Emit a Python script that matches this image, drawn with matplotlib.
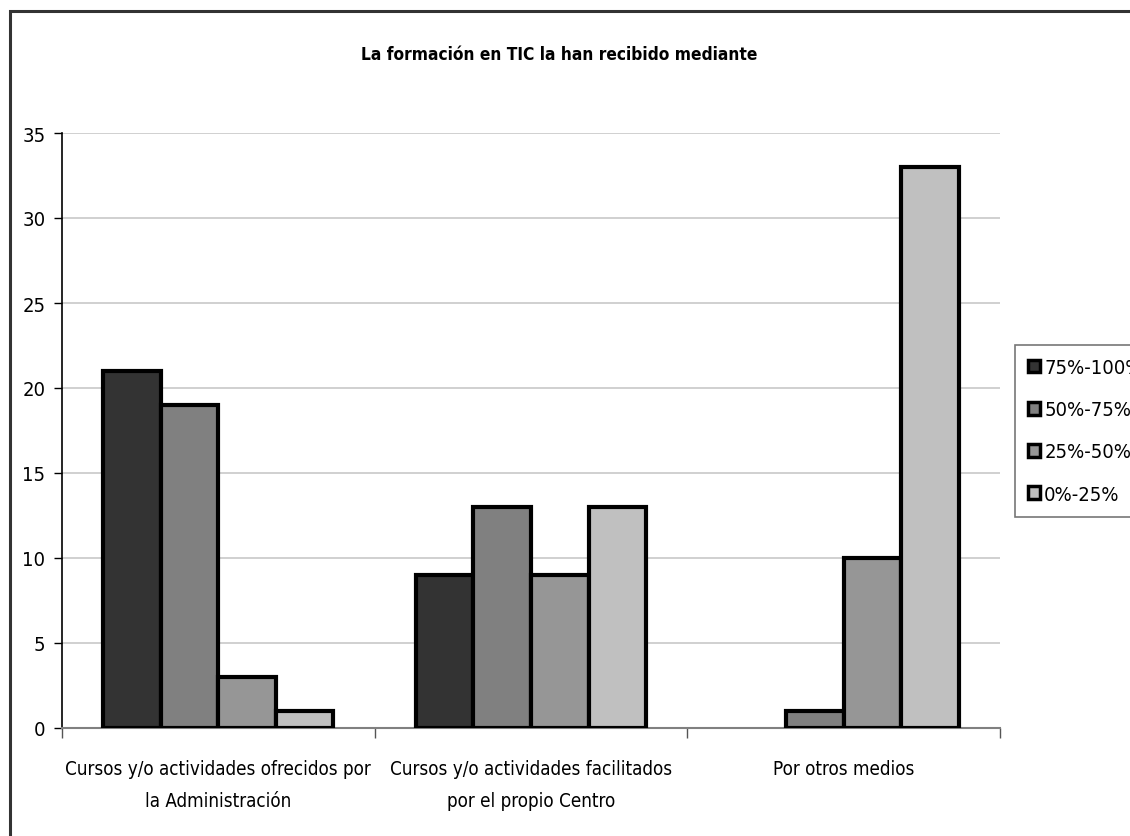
import matplotlib
matplotlib.use("Agg")
import matplotlib.pyplot as plt
from matplotlib.patches import Patch, Rectangle
import numpy as np

plt.rcParams['font.family'] = ['DejaVu Sans']
plt.rcParams['font.stretch'] = 'condensed'

categories = ["Cursos y/o actividades ofrecidos por\nla Administración",
              "Cursos y/o actividades facilitados\npor el propio Centro",
              "Por otros medios"]
series_names = ["75%-100%", "50%-75%", "25%-50%", "0%-25%"]
v_75_100 = [21, 9, 0]
v_50_75 = [19, 13, 1]
v_25_50 = [3, 9, 10]
v_0_25 = [1, 13, 33]
series_values = [v_75_100, v_50_75, v_25_50, v_0_25]
colors = ["#333333", "#808080", "#969696", "#c0c0c0"]
yticks = [0, 5, 10, 15, 20, 25, 30, 35]

W, H = 1130, 837
fig = plt.figure(figsize=(W / 100, H / 100), dpi=100)
ax = fig.add_axes([62 / W, 1 - 729 / H, (1000 - 62) / W, (729 - 134) / H])

# outer chart frame
fig.patches.append(Rectangle((9.5 / W, -0.1), 1.2, (H - 11.5) / H + 0.1,
                             transform=fig.transFigure, fill=False,
                             edgecolor="#333333", linewidth=2.2, zorder=0))

x = np.arange(len(categories))
bw = 0.184
for i, (vals, c) in enumerate(zip(series_values, colors)):
    offs = (i - 1.5) * bw
    for xi, v in zip(x, vals):
        if v > 0:
            ax.bar(xi + offs, v, width=bw, color=c, edgecolor="black",
                   linewidth=3, zorder=3)

ax.set_xlim(-0.5, len(categories) - 0.5)
ax.set_ylim(0, 35)
ax.set_yticks(yticks)
ax.set_yticklabels([str(t) for t in yticks], fontsize=14.5)
ax.yaxis.grid(True, color="#c8c8c8", linewidth=1.2, zorder=0)
ax.set_axisbelow(True)

ax.set_xticks(x)
ax.set_xticklabels(categories, fontsize=13.5, linespacing=1.9)
ax.tick_params(axis="x", length=0, pad=22)
ax.set_xticks(np.arange(len(categories) + 1) - 0.5, minor=True)
ax.tick_params(axis="x", which="minor", length=7, width=1, color="#555555")
ax.tick_params(axis="y", length=6, width=1, pad=6)

for s in ["top", "right"]:
    ax.spines[s].set_visible(False)
ax.spines["left"].set_color("black")
ax.spines["left"].set_linewidth(1.2)
ax.spines["bottom"].set_color("#808080")
ax.spines["bottom"].set_linewidth(1.5)

fig.text(559 / W, 1 - 55 / H,
         "La formación en TIC la han recibido mediante",
         ha="center", va="center", fontsize=12.4, fontweight="bold")

handles = [Patch(facecolor=c, edgecolor="black", linewidth=2.5) for c in colors]
leg = fig.legend(handles, series_names, loc="upper left",
                 bbox_to_anchor=(1015 / W, 1 - 346 / H),
                 fontsize=14.5, frameon=True, fancybox=False,
                 handlelength=0.6, handleheight=0.6, handletextpad=0.2,
                 labelspacing=1.15, borderpad=0.65, borderaxespad=0)
leg.get_frame().set_edgecolor("#555555")
leg.get_frame().set_linewidth(1.2)

fig.savefig("out.png", dpi=100)
